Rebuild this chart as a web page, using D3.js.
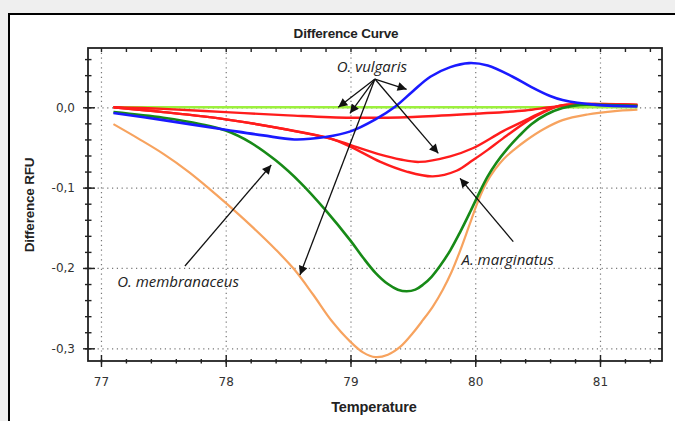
<!DOCTYPE html>
<html>
<head>
<meta charset="utf-8">
<script src="https://cdn.jsdelivr.net/npm/d3@7"></script>
<style>
  html, body { margin: 0; padding: 0; background: #efefef; }
  svg { display: block; }
</style>
</head>
<body>
<div id="chart"></div>
<script>
// temperature readings and difference values
const tempOrange = [77.1, 77.3, 77.5, 77.7, 77.85, 78.0, 78.2, 78.4, 78.55, 78.7, 78.85, 79.0, 79.1, 79.2, 79.3, 79.4, 79.5, 79.58, 79.66, 79.74, 79.81, 79.88, 79.95, 80.02, 80.09, 80.16, 80.23, 80.31, 80.41, 80.55, 80.7, 80.9, 81.1, 81.3];
const rfuOrange = [-0.021, -0.039, -0.058, -0.08, -0.099, -0.119, -0.147, -0.177, -0.202, -0.233, -0.266, -0.292, -0.305, -0.311, -0.308, -0.298, -0.281, -0.265, -0.248, -0.227, -0.205, -0.178, -0.148, -0.118, -0.094, -0.077, -0.064, -0.053, -0.041, -0.027, -0.016, -0.009, -0.005, -0.003];

const tempGreen = [77.1, 77.5, 77.8, 78.0, 78.2, 78.4, 78.6, 78.8, 79.0, 79.1, 79.2, 79.3, 79.38, 79.45, 79.52, 79.58, 79.65, 79.72, 79.8, 79.88, 79.96, 80.04, 80.1, 80.17, 80.25, 80.35, 80.45, 80.57, 80.7, 80.84, 81.0, 81.3];
const rfuGreen = [-0.006, -0.013, -0.021, -0.029, -0.044, -0.066, -0.094, -0.128, -0.166, -0.187, -0.206, -0.22, -0.227, -0.229, -0.227, -0.221, -0.211, -0.197, -0.178, -0.155, -0.13, -0.104, -0.086, -0.069, -0.053, -0.036, -0.021, -0.009, -0.001, 0.003, 0.003, 0.002];

const tempBlue = [77.1, 77.5, 78.0, 78.3, 78.55, 78.8, 79.0, 79.2, 79.36, 79.5, 79.64, 79.8, 79.95, 80.1, 80.3, 80.44, 80.6, 80.7, 80.97, 81.3];
const rfuBlue = [-0.007, -0.016, -0.028, -0.035, -0.04, -0.037, -0.03, -0.015, 0.001, 0.02, 0.038, 0.05, 0.055, 0.052, 0.038, 0.026, 0.014, 0.009, 0.003, 0.001];

const tempRedTop = [77.1, 77.5, 78.0, 78.5, 79.0, 79.5, 80.0, 80.4, 80.6, 80.8, 81.0, 81.3];
const rfuRedTop = [0.0, -0.002, -0.006, -0.01, -0.013, -0.012, -0.008, -0.004, 0.0, 0.003, 0.004, 0.003];

const tempRedDip1 = [77.1, 77.5, 78.0, 78.5, 78.84, 79.0, 79.24, 79.4, 79.55, 79.8, 79.98, 80.22, 80.43, 80.55, 80.68, 80.85, 81.0, 81.3];
const rfuRedDip1 = [0.0, -0.006, -0.015, -0.028, -0.039, -0.047, -0.059, -0.065, -0.068, -0.061, -0.051, -0.03, -0.014, -0.005, 0.002, 0.004, 0.004, 0.003];

const tempRedDip2 = [77.1, 77.5, 78.0, 78.5, 78.84, 79.0, 79.24, 79.45, 79.66, 79.85, 79.98, 80.1, 80.22, 80.43, 80.55, 80.68, 80.85, 81.3];
const rfuRedDip2 = [0.0, -0.006, -0.015, -0.028, -0.039, -0.049, -0.068, -0.08, -0.086, -0.079, -0.066, -0.053, -0.039, -0.016, -0.006, 0.002, 0.004, 0.003];

const tempLime = [77.1, 81.3];
const rfuLime = [0.0, 0.0];

const xTicks = [77, 78, 79, 80, 81];
const yTicks = [0.0, -0.1, -0.2, -0.3];

// annotation labels: [text, T, RFU]
const labels = [
  ["O. vulgaris", 78.89, 0.0435],
  ["O. membranaceus", 77.13, -0.2243],
  ["A. marginatus", 79.89, -0.1957]
];
// arrows: [fromT, fromRFU, toT, toRFU]
const arrows = [
  [79.196, 0.0352, 78.902, 0.0],
  [79.196, 0.0352, 78.996, -0.0075],
  [79.196, 0.0352, 79.45, 0.0224],
  [79.196, 0.0352, 78.595, -0.2088],
  [79.196, 0.0352, 79.704, -0.0573],
  [77.673, -0.1976, 78.365, -0.0718],
  [80.305, -0.1673, 79.878, -0.0884]
];

const width = 675, height = 421;
const plotL = 88, plotR = 662, plotT = 48, plotB = 361;

const svg = d3.select("#chart").append("svg")
  .attr("width", width).attr("height", height)
  .style("font-family", "'Liberation Sans', Arial, sans-serif");

svg.append("defs").append("marker")
  .attr("id", "head")
  .attr("viewBox", "0 0 10 10")
  .attr("refX", 10).attr("refY", 5)
  .attr("markerUnits", "userSpaceOnUse")
  .attr("markerWidth", 11).attr("markerHeight", 9)
  .attr("orient", "auto")
  .append("path").attr("d", "M0,0L10,5L0,10z").attr("fill", "#111");

// window + white frame
svg.append("rect").attr("width", width).attr("height", height).attr("fill", "#efefef");
svg.append("rect").attr("x", 9).attr("y", 14).attr("width", width + 20).attr("height", height + 20)
  .attr("fill", "#fff").attr("stroke", "#000").attr("stroke-width", 2);

const x = d3.scaleLinear().domain([76.896, 81.497]).range([plotL, plotR]);
const y = d3.scaleLinear().domain([-0.3158, 0.0738]).range([plotB, plotT]);

const loc = d3.formatLocale({ decimal: ",", thousands: ".", grouping: [3], currency: ["", ""], minus: "-" });
const fmt = loc.format(".1f");

// dotted grid
const grid = svg.append("g").attr("stroke", "#777").attr("stroke-width", 1.2)
  .attr("stroke-dasharray", "1.2,3.6");
grid.selectAll(".gx").data(xTicks).join("line").attr("class", "gx")
  .attr("x1", d => x(d) + 0.5).attr("x2", d => x(d) + 0.5)
  .attr("y1", plotT).attr("y2", plotB);
grid.selectAll(".gy").data(yTicks).join("line").attr("class", "gy")
  .attr("y1", d => y(d) + 0.5).attr("y2", d => y(d) + 0.5)
  .attr("x1", plotL).attr("x2", plotR);

// curves
const line = d3.line().x(d => x(d[0])).y(d => y(d[1])).curve(d3.curveCatmullRom.alpha(0.5));
const series = [
  [tempOrange, rfuOrange, "#f7a35f", 2.2],
  [tempLime, rfuLime, "#9cf03c", 2.6],
  [tempRedTop, rfuRedTop, "#ff1c1c", 2.4],
  [tempRedDip1, rfuRedDip1, "#ff1c1c", 2.4],
  [tempRedDip2, rfuRedDip2, "#ff1c1c", 2.4],
  [tempGreen, rfuGreen, "#178a17", 2.6],
  [tempBlue, rfuBlue, "#1a1aff", 2.6]
];
svg.append("g").selectAll("path").data(series).join("path")
  .attr("fill", "none")
  .attr("stroke", d => d[2])
  .attr("stroke-width", d => d[3])
  .attr("stroke-linejoin", "round")
  .attr("d", d => line(d[0].map((t, i) => [t, d[1][i]])));

// axes
const axisColor = "#222";
const xMinor = d3.range(77, 81.5, 0.2);
const yMinor = d3.range(-0.3, 0.07, 0.02);

const gxB = svg.append("g").attr("transform", `translate(0,${plotB})`)
  .call(d3.axisBottom(x).tickValues(xMinor).tickFormat("").tickSize(2.5).tickSizeOuter(0));
gxB.selectAll(".tick line").attr("y1", -2);
const gxBM = svg.append("g").attr("transform", `translate(0,${plotB})`)
  .call(d3.axisBottom(x).tickValues(xTicks).tickFormat(d3.format("d")).tickSize(6).tickSizeOuter(0));
gxBM.selectAll(".tick line").attr("y1", -6);
gxBM.selectAll("text").attr("dy", "1.3em").attr("font-family", "'DejaVu Sans', sans-serif")
  .attr("font-size", 12).attr("fill", "#333");

const gyL = svg.append("g").attr("transform", `translate(${plotL},0)`)
  .call(d3.axisLeft(y).tickValues(yMinor).tickFormat("").tickSize(3).tickSizeOuter(0));
gyL.selectAll(".tick line").attr("x1", 3.5);
const gyLM = svg.append("g").attr("transform", `translate(${plotL},0)`)
  .call(d3.axisLeft(y).tickValues(yTicks).tickFormat(fmt).tickSize(5).tickSizeOuter(0));
gyLM.selectAll(".tick line").attr("x1", 7);
gyLM.selectAll("text").attr("x", -13).attr("font-family", "'DejaVu Sans', sans-serif")
  .attr("font-size", 12).attr("fill", "#333");

const gxT = svg.append("g").attr("transform", `translate(0,${plotT})`)
  .call(d3.axisTop(x).tickValues(xMinor).tickFormat("").tickSize(-4).tickSizeOuter(0));
const gyR = svg.append("g").attr("transform", `translate(${plotR},0)`)
  .call(d3.axisRight(y).tickValues(yMinor).tickFormat("").tickSize(-4).tickSizeOuter(0));

[gxB, gxBM, gyL, gyLM, gxT, gyR].forEach(g => {
  g.selectAll(".tick line").attr("stroke", axisColor).attr("stroke-width", 1.4);
  g.select(".domain").remove();
});
svg.append("rect").attr("x", plotL).attr("y", plotT).attr("width", plotR - plotL).attr("height", plotB - plotT)
  .attr("fill", "none").attr("stroke", axisColor).attr("stroke-width", 1.8);

// titles
svg.append("text").attr("x", 346).attr("y", 38).attr("text-anchor", "middle")
  .attr("font-weight", "bold").attr("font-size", 13.5).attr("fill", "#222")
  .attr("letter-spacing", -0.2).text("Difference Curve");
svg.append("text").attr("x", 374).attr("y", 412).attr("text-anchor", "middle")
  .attr("font-weight", "bold").attr("font-size", 14.5).attr("fill", "#222")
  .attr("letter-spacing", -0.1).text("Temperature");
svg.append("text").attr("transform", "translate(34,205) rotate(-90)").attr("text-anchor", "middle")
  .attr("font-weight", "bold").attr("font-size", 13.5).attr("fill", "#222")
  .attr("letter-spacing", -0.2).text("Difference RFU");

// annotations
svg.append("g").selectAll("line").data(arrows).join("line")
  .attr("x1", d => x(d[0])).attr("y1", d => y(d[1]))
  .attr("x2", d => x(d[2])).attr("y2", d => y(d[3]))
  .attr("stroke", "#111").attr("stroke-width", 1.3)
  .attr("marker-end", "url(#head)");

svg.append("g").selectAll("text").data(labels).join("text")
  .attr("x", d => x(d[1])).attr("y", d => y(d[2]))
  .attr("font-family", "'Open Sans', Lato, sans-serif")
  .attr("font-style", "italic").attr("font-size", 15).attr("fill", "#222")
  .text(d => d[0]);
</script>
</body>
</html>
